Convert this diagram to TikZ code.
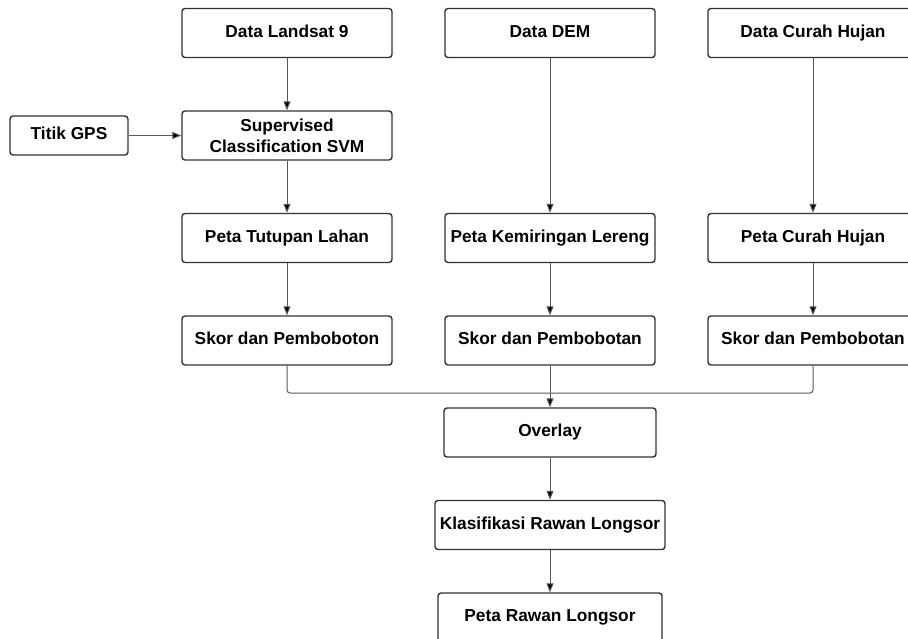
\documentclass[tikz,border=0pt]{standalone}
\usepackage{fontspec}
\setmainfont{Liberation Sans}
\usepackage{tikz}
\usetikzlibrary{arrows.meta,positioning}
\tikzset{>={Triangle[length=9pt,width=7pt]},node distance=102.5pt}
\tikzset{tallbox/.style={draw=black!80,line width=1.4pt,rounded corners=3pt,fill=white,
        minimum width=210pt,minimum height=49pt,align=center,
        font=\fontsize{17.3}{21}\selectfont\bfseries,inner sep=2pt}}
\tikzset{box/.style={tallbox,text height=12.5pt,text depth=3.7pt}}
\tikzset{line/.style={draw=black!65,line width=1pt}}

\begin{document}
\begin{tikzpicture}[x=1pt,y=-1pt]
        \useasboundingbox (0,0) rectangle (908,639);
        \clip (0,0) rectangle (908,639);
        	% input data
        	\node[box] (landsat) at (287,33) {Data Landsat 9};
        	\node[box] (dem) [right of=landsat,node distance=263pt] {Data DEM};
        	\node[box] (hujan) [right of=dem,node distance=263pt] {Data Curah Hujan};
        	\node[tallbox] (svm) [below of=landsat] {Supervised\\Classification SVM};
        	\node[box,minimum width=118pt,minimum height=39pt] (gps) [left of=svm,node distance=218pt] {Titik GPS};
        	% maps
        	\node[box] (tutupan) [below of=svm] {Peta Tutupan Lahan};
        	\node[box] (lereng) [below of=dem,node distance=205pt] {Peta Kemiringan Lereng};
        	\node[box] (pch) [below of=hujan,node distance=205pt] {Peta Curah Hujan};
        	% scoring
        	\node[box] (skor1) [below of=tutupan] {Skor dan Pemboboton};
        	\node[box] (skor2) [below of=lereng] {Skor dan Pembobotan};
        	\node[box] (skor3) [below of=pch] {Skor dan Pembobotan};
        	% result
        	\node[box,minimum width=212pt] (overlay) [below of=skor2,node distance=92pt] {Overlay};
        	\node[box,minimum width=230pt] (klas) [below of=overlay,node distance=92.5pt] {Klasifikasi Rawan Longsor};
        	\node[box,minimum width=224pt] (hasil) [below of=klas,node distance=92.5pt] {Peta Rawan Longsor};
        	\coordinate (join) at (550,393);
        	\path[line,->]
        		(landsat) edge (svm)
        		(gps) edge (svm)
        		(svm) edge (tutupan)
        		(dem) edge (lereng)
        		(hujan) edge (pch)
        		(tutupan) edge (skor1)
        		(lereng) edge (skor2)
        		(pch) edge (skor3)
        		(skor2) edge (overlay)
        		(overlay) edge (klas)
        		(klas) edge (hasil)
        		;
        	\draw[line,rounded corners=3pt] (skor1.south) |- (join) -| (skor3.south);
\end{tikzpicture}
\end{document}
